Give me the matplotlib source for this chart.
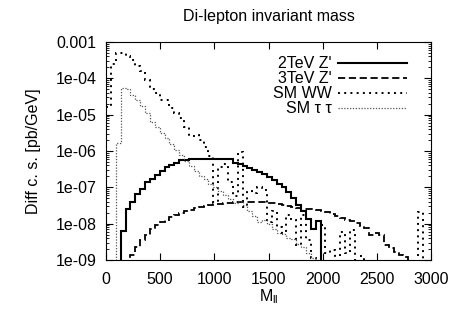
import numpy as np
import matplotlib
matplotlib.use("Agg")
import matplotlib.pyplot as plt
from matplotlib.ticker import FixedLocator, FixedFormatter, LogLocator, NullFormatter

plt.rcParams['font.family'] = ['Liberation Sans', 'DejaVu Sans']

# bin edges (GeV)
bin_width = 45
edges = np.arange(0, 3016, bin_width)

# log10(value) + 9 per bin (0 -> not visible / empty)
z2_log = [0, 0, 0, 0.81, 1.40, 1.60, 1.81, 1.96, 2.14, 2.23, 2.34, 2.45, 2.57, 2.61,
          2.66, 2.74, 2.76, 2.77, 2.78, 2.78, 2.78, 2.78, 2.78, 2.77, 2.78, 2.79,
          2.68, 2.64, 2.59, 2.53, 2.48, 2.42, 2.36, 2.28, 2.20, 2.10, 2.00, 1.86,
          1.72, 1.50, 1.36, 1.13, 0.85, 1.06] + [0] * 23
z3_log = [0, 0, 0, 0, 0, 0.15, 0.35, 0.55, 0.69, 0.85, 0.96, 1.04, 1.11, 1.18, 1.24,
          1.30, 1.34, 1.38, 1.42, 1.45, 1.48, 1.51, 1.53, 1.55, 1.57, 1.58, 1.59,
          1.60, 1.61, 1.61, 1.60, 1.60, 1.59, 1.58, 1.57, 1.54, 1.52, 1.49, 1.46,
          1.43, 1.41, 1.40, 1.39, 1.37, 1.35, 1.32, 1.27, 1.21, 1.16, 1.11, 1.06,
          1.01, 0.94, 0.87, 0.69, 0.74, 0.70, 0.40, 0.34, 0.23, 0.15, 0.09] + [0] * 5
ww_log = [4.20, 5.40, 5.70, 5.70, 5.62, 5.51, 5.33, 5.19, 4.96, 4.72, 4.60, 4.41,
          4.41, 4.18, 4.05, 3.90, 3.66, 3.40, 3.45, 3.30, 3.12, 2.85, 1.60, 2.55,
          2.65, 2.15, 1.75, 2.98, 1.47, 1.90, 1.85, 2.00, 1.93, 1.05, 1.35, 0.90,
          0.75, 1.25, 1.10, 0.40, 1.25, 0.55, 0.05, 0, 0.95, 0.20, 0.27, 0, 0.78,
          0.20, 0.83, 0, 0.12, 0, 0, 0, 0, 0, 0, 0, 0, 0, 0, 0, 1.33, 0, 0]
tt_log = [0, 0, 3.22, 4.74, 4.72, 4.55, 4.40, 4.25, 4.05, 3.80, 3.65, 3.50, 3.35,
          3.18, 3.03, 2.88, 2.72, 2.58, 2.45, 2.32, 2.22, 2.10, 2.00, 1.90, 1.80,
          1.68, 1.58, 1.62, 1.50, 1.35, 1.20, 1.05, 1.10, 0.98, 0.85, 0.75, 0.72,
          0.60, 0.58, 0.45, 0.36, 0.20, 0.05] + [0] * 24

labels = ["2TeV Z'", "3TeV Z'", "SM WW", "SM τ τ"]
yticks = [1e-9, 1e-8, 1e-7, 1e-6, 1e-5, 1e-4, 1e-3]
ytick_labels = ["1e-09", "1e-08", "1e-07", "1e-06", "1e-05", "1e-04", "0.001"]
xticks = [0, 500, 1000, 1500, 2000, 2500, 3000]

FS = 11.5


def to_vals(lg):
    lg = np.asarray(lg, dtype=float)
    return np.where(lg > 0, 10.0 ** (lg - 9), 1e-13)


fig = plt.figure(figsize=(4.53, 3.11), dpi=100)
ax = fig.add_axes([106 / 453, 1 - 260 / 311, 325 / 453, 218 / 311])

styles = [
    dict(color='black', lw=1.5, ls='-'),
    dict(color='black', lw=1.3, ls=(0, (4, 2))),
    dict(color='black', lw=1.4, ls=(0, (1, 2.2))),
    dict(color='#555555', lw=0.9, ls=(0, (1, 1.3))),
]
series = [z2_log, z3_log, ww_log, tt_log]
for lg, st, lab in zip(series, styles, labels):
    ax.stairs(to_vals(lg), edges, baseline=None, label=lab, **st)

ax.set_yscale('log')
ax.set_xlim(0, 3000)
ax.set_ylim(1e-9, 1e-3)
ax.yaxis.set_major_locator(FixedLocator(yticks))
ax.yaxis.set_major_formatter(FixedFormatter(ytick_labels))
ax.yaxis.set_minor_locator(LogLocator(base=10, subs=np.arange(2, 10), numticks=20))
ax.yaxis.set_minor_formatter(NullFormatter())
ax.set_xticks(xticks)
ax.tick_params(which='both', direction='in', top=True, right=True, labelsize=FS)
ax.tick_params(which='major', length=5, width=0.8)
ax.tick_params(which='minor', length=2.5, width=0.6)
ax.tick_params(axis='x', pad=9)
ax.tick_params(axis='y', pad=7)

ax.set_title("Di-lepton invariant mass", fontsize=FS, pad=15)
ax.set_xlabel(r"M$_{\mathregular{ll}}$", fontsize=FS, labelpad=0)
ax.set_ylabel("Diff c. s. [pb/GeV]", fontsize=FS, labelpad=10)

leg = ax.legend(loc='upper right', frameon=False, fontsize=FS, markerfirst=False,
                handlelength=4.3, handletextpad=0.4, labelspacing=0.0,
                borderaxespad=0.3, bbox_to_anchor=(0.96, 0.985))
for t in leg.get_texts():
    t.set_ha('right')

fig.savefig("out.png", dpi=100)
